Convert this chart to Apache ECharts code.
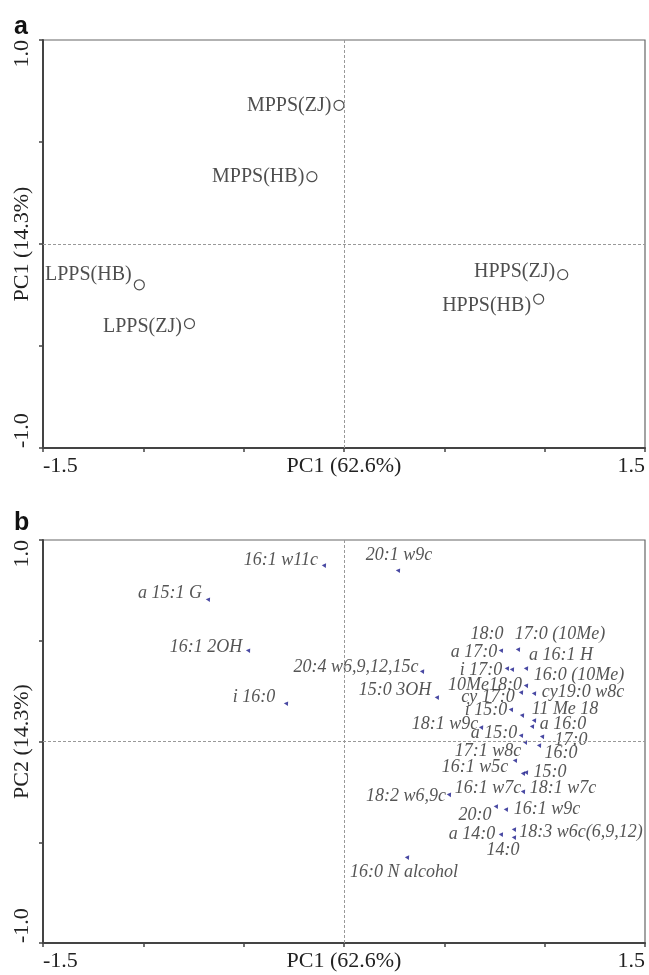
<!DOCTYPE html>
<html>
<head>
<meta charset="utf-8">
<script src="https://cdn.jsdelivr.net/npm/echarts@6/dist/echarts.min.js"></script>
<style>
  html, body { margin: 0; padding: 0; background: #fff; }
  #chart { width: 649px; height: 975px; }
</style>
</head>
<body>
<div id="chart"></div>
<script>
// panel a: samples
const sampleNames = ['MPPS(ZJ)', 'MPPS(HB)', 'LPPS(HB)', 'LPPS(ZJ)', 'HPPS(ZJ)', 'HPPS(HB)'];
const sampleX = [-0.025, -0.16, -1.02, -0.77, 1.09, 0.97];
const sampleY = [0.68, 0.33, -0.20, -0.39, -0.15, -0.27];

// panel b: fatty acids
const fameNames = ['16:1 w11c', '20:1 w9c', 'a 15:1 G', '16:1 2OH', '20:4 w6,9,12,15c', 'i 16:0', '15:0 3OH',
  '18:0', '17:0 (10Me)', 'a 17:0', 'i 17:0', 'a 16:1 H', '16:0 (10Me)', '10Me18:0', 'cy19:0 w8c',
  'cy 17:0', 'i 15:0', '11 Me 18', 'a 16:0', '18:1 w9c', 'a 15:0', '17:0', '16:0', '17:1 w8c',
  '16:1 w5c', '15:0', '16:1 w7c', '18:1 w7c', '18:2 w6,9c', '20:0', '16:1 w9c', 'a 14:0',
  '18:3 w6c(6,9,12)', '14:0', '16:0 N alcohol'];
const fameX = [-0.095, 0.274, -0.673, -0.473, 0.394, -0.284, 0.468,
  0.787, 0.872, 0.817, 0.842, 0.912, 0.912, 0.887, 0.952,
  0.837, 0.892, 0.952, 0.942, 0.688, 0.887, 0.992, 0.977, 0.907,
  0.857, 0.912, 0.897, 0.897, 0.528, 0.762, 0.812, 0.787,
  0.852, 0.852, 0.319];
const fameY = [0.876, 0.851, 0.707, 0.454, 0.350, 0.191, 0.221,
  0.454, 0.459, 0.365, 0.360, 0.365, 0.280, 0.246, 0.241,
  0.161, 0.132, 0.107, 0.077, 0.072, 0.032, 0.027, -0.017, -0.002,
  -0.092, -0.151, -0.156, -0.246, -0.261, -0.320, -0.335, -0.459,
  -0.434, -0.474, -0.573];

const xTicks = [-1.5, 1.5];
const yTicks = [-1, 1];

// label placement (pixels, style only)
const sampleShift = [0, 0, -10, 3, -3, 7];
const fameShift = [[-44, -5], [0, -15], [-39, -6], [-43, -3], [-67, -4], [-33, -6], [-43, -7],
  [-15, -16], [41, -15], [-34, -16], [-32, 1], [34, -13], [52, -10], [-37, -7], [48, -1],
  [-24, -12], [-37, -5], [30, -11], [30, -2], [-37, -3], [-28, -2], [28, 4], [21, 8], [-38, 9],
  [-41, 7], [23, 0], [-36, 15], [39, -3], [-44, 2], [-22, 9], [40, 0], [-30, 0],
  [66, 3], [-12, 13], [-4, 15]];

const serif = 'Liberation Serif';
const axisColor = '#444';

function makeX(gridIndex, name) {
  return {
    gridIndex,
    type: 'value',
    min: -1.5,
    max: 1.5,
    interval: 0.5,
    name,
    nameLocation: 'middle',
    nameGap: 7,
    nameMoveOverlap: false,
    nameTextStyle: { fontFamily: serif, fontSize: 22, color: '#222', verticalAlign: 'top' },
    axisLine: { onZero: false, lineStyle: { color: axisColor, width: 2 } },
    axisTick: { length: 4, lineStyle: { color: axisColor, width: 1.5 } },
    axisLabel: {
      margin: 7,
      fontFamily: serif,
      fontSize: 22,
      color: '#222',
      alignMinLabel: 'left',
      alignMaxLabel: 'right',
      formatter: (v) => (xTicks.indexOf(v) >= 0 ? v.toFixed(1) : ''),
    },
    splitLine: { show: false },
  };
}

function makeY(gridIndex, name) {
  return {
    gridIndex,
    type: 'value',
    min: -1,
    max: 1,
    interval: 0.5,
    name,
    nameLocation: 'middle',
    nameRotate: 90,
    nameGap: 10,
    nameMoveOverlap: false,
    nameTextStyle: { fontFamily: serif, fontSize: 22, color: '#222' },
    axisLine: { onZero: false, lineStyle: { color: axisColor, width: 2 } },
    axisTick: { length: 4, lineStyle: { color: axisColor, width: 1.5 } },
    axisLabel: {
      margin: 10,
      rotate: 90,
      fontFamily: serif,
      fontSize: 22,
      color: '#222',
      alignMinLabel: 'left',
      alignMaxLabel: 'right',
      formatter: (v) => (yTicks.indexOf(v) >= 0 ? v.toFixed(1) : ''),
    },
    splitLine: { show: false },
  };
}

const zeroLines = {
  silent: true,
  symbol: 'none',
  animation: false,
  label: { show: false },
  lineStyle: { color: '#999', type: [3, 2], width: 1 },
  data: [{ xAxis: 0 }, { yAxis: 0 }],
};

const chart = echarts.init(document.getElementById('chart'));
chart.setOption({
  animation: false,
  backgroundColor: '#fff',
  title: [
    { text: 'a', left: 9, top: 10, textStyle: { fontFamily: 'Liberation Sans', fontWeight: 'bold', fontSize: 25, color: '#111' } },
    { text: 'b', left: 9, top: 506, textStyle: { fontFamily: 'Liberation Sans', fontWeight: 'bold', fontSize: 25, color: '#111' } },
  ],
  grid: [
    { left: 43, top: 40, right: 4, height: 408, outerBoundsMode: 'none', containLabel: false, show: true, borderColor: '#666', borderWidth: 1.2 },
    { left: 43, top: 540, right: 4, height: 403, outerBoundsMode: 'none', containLabel: false, show: true, borderColor: '#666', borderWidth: 1.2 },
  ],
  xAxis: [makeX(0, 'PC1 (62.6%)'), makeX(1, 'PC1 (62.6%)')],
  yAxis: [makeY(0, 'PC1 (14.3%)'), makeY(1, 'PC2 (14.3%)')],
  series: [
    {
      type: 'scatter',
      xAxisIndex: 0,
      yAxisIndex: 0,
      symbol: 'circle',
      symbolSize: 10,
      itemStyle: { color: '#fff', borderColor: '#222', borderWidth: 1.2 },
      label: {
        show: true,
        position: 'left',
        distance: 2,
        fontFamily: serif,
        fontSize: 20,
        color: '#222',
        formatter: (p) => p.name,
      },
      data: sampleNames.map((n, i) => ({
        name: n,
        value: [sampleX[i], sampleY[i]],
        label: { offset: [0, sampleShift[i]] },
      })),
      markLine: zeroLines,
      z: 3,
    },
    {
      type: 'scatter',
      xAxisIndex: 1,
      yAxisIndex: 1,
      symbol: 'triangle',
      symbolSize: [5, 4],
      symbolRotate: -35,
      itemStyle: { color: '#1c1c8c' },
      label: {
        show: true,
        position: 'inside',
        align: 'center',
        verticalAlign: 'middle',
        fontFamily: serif,
        fontStyle: 'italic',
        fontSize: 18,
        color: '#2a2a2a',
        formatter: (p) => p.name,
      },
      data: fameNames.map((n, i) => ({
        name: n,
        value: [fameX[i], fameY[i]],
        label: { offset: fameShift[i] },
      })),
      markLine: zeroLines,
      z: 3,
    },
  ],
});
</script>
</body>
</html>
